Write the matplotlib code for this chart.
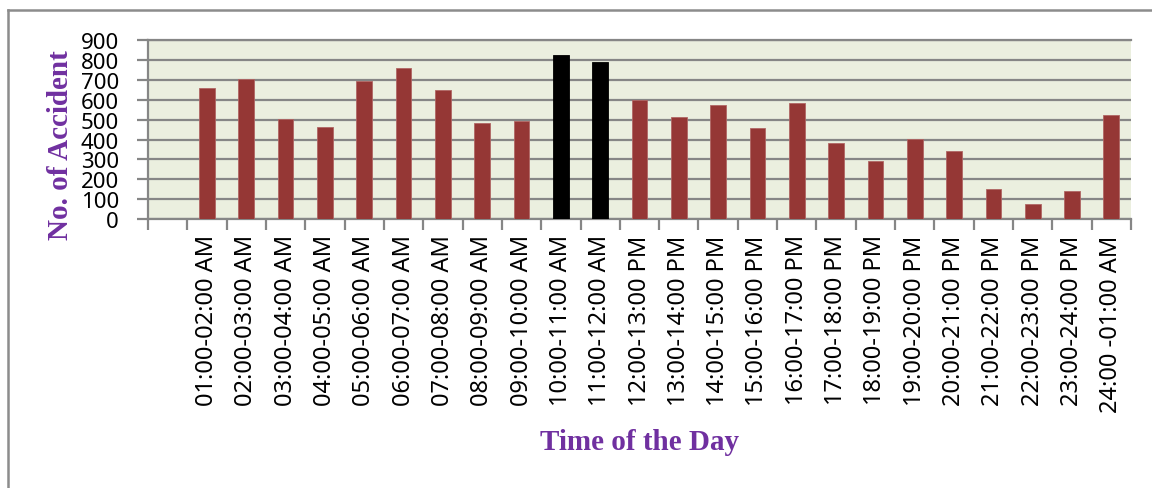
import matplotlib.pyplot as plt
from matplotlib.lines import Line2D

hours = ["", "01:00-02:00 AM", "02:00-03:00 AM", "03:00-04:00 AM", "04:00-05:00 AM",
         "05:00-06:00 AM", "06:00-07:00 AM", "07:00-08:00 AM", "08:00-09:00 AM",
         "09:00-10:00 AM", "10:00-11:00 AM", "11:00-12:00 AM", "12:00-13:00 PM",
         "13:00-14:00 PM", "14:00-15:00 PM", "15:00-16:00 PM", "16:00-17:00 PM",
         "17:00-18:00 PM", "18:00-19:00 PM", "19:00-20:00 PM", "20:00-21:00 PM",
         "21:00-22:00 PM", "22:00-23:00 PM", "23:00-24:00 PM", "24:00 -01:00 AM"]
accidents = [0, 662, 707, 503, 463, 694, 763, 649, 483, 493, 825, 789, 600,
             513, 573, 458, 582, 381, 293, 401, 340, 149, 74, 141, 526]
peak_hours = ["10:00-11:00 AM", "11:00-12:00 AM"]

W, H = 1152, 489
fig = plt.figure(figsize=(W / 100, H / 100), dpi=100)
ax = fig.add_axes([148 / W, 1 - 220 / H, (1131 - 148) / W, (220 - 41.3) / H])

grid_col = "#868686"
ax.set_facecolor("#EBEFDF")
colors = ["#000000" if h in peak_hours else "#953735" for h in hours]
edges = ["#000000" if h in peak_hours else "#B06664" for h in hours]
pos = list(range(len(hours)))
ax.bar(pos, accidents, width=0.4, color=colors, edgecolor=edges,
       linewidth=0.6, zorder=3)

ax.set_xlim(-0.5, len(hours) - 0.5)
ax.set_ylim(0, 900)
ax.set_yticks(range(0, 901, 100))
ax.yaxis.grid(True, color=grid_col, linewidth=1.6, zorder=0)
ax.set_axisbelow(True)

# boundaries get the tick marks, centres get the labels
ax.set_xticks([p - 0.5 for p in pos] + [len(hours) - 0.5])
ax.set_xticklabels([])
ax.set_xticks(pos, hours, minor=True, rotation=90)
for lbl in ax.get_xticklabels(minor=True):
    lbl.set_family("Noto Sans")
for lbl in ax.get_yticklabels():
    lbl.set_family("Noto Sans")
ax.tick_params(axis="x", which="minor", length=0, pad=11, labelsize=17)
ax.tick_params(axis="x", which="major", length=8, width=1.6, color=grid_col)
ax.tick_params(axis="y", length=8, width=1.6, color=grid_col, pad=13, labelsize=16)

for side in ["left", "bottom", "top"]:
    ax.spines[side].set_color(grid_col)
    ax.spines[side].set_linewidth(1.6)
ax.spines["right"].set_visible(False)

purple = "#7030A0"
fig.text(60 / W, 1 - 145 / H, "No. of Accident", rotation=90, ha="center", va="center",
         family="Liberation Serif", fontweight="bold", fontsize=21, color=purple)
fig.text(639 / W, 1 - 443 / H, "Time of the Day", ha="center", va="center",
         family="Liberation Serif", fontweight="bold", fontsize=21, color=purple)

# outer chart frame (left and top edges)
frame = "#8C8C8C"
fig.add_artist(Line2D([7.5 / W, 7.5 / W], [0, 1 - 11 / H], color=frame, linewidth=1.8,
                      transform=fig.transFigure))
fig.add_artist(Line2D([7.5 / W, 1], [1 - 11 / H, 1 - 11 / H], color=frame, linewidth=1.8,
                      transform=fig.transFigure))

fig.savefig("out.png", dpi=100)
